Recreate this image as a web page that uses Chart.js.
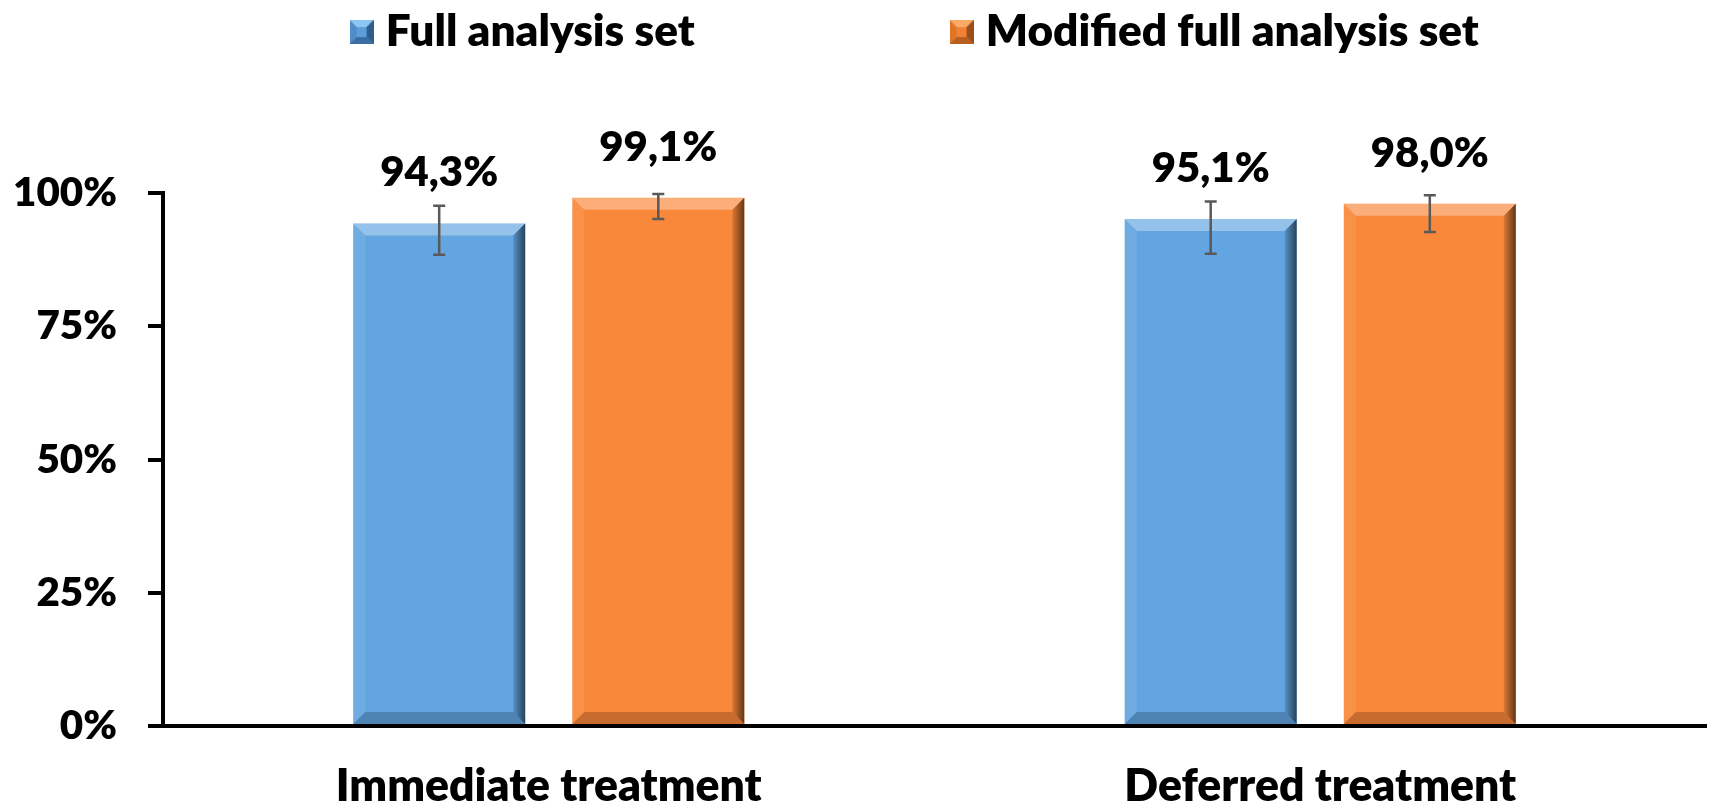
<!DOCTYPE html>
<html>
<head>
<meta charset="utf-8">
<script src="https://cdn.jsdelivr.net/npm/chart.js@4.4.1/dist/chart.umd.min.js"></script>
<style>
  html, body { margin: 0; padding: 0; background: #fff; }
  #wrap { width: 1709px; height: 808px; }
</style>
</head>
<body>
<div id="wrap"><canvas id="chart"></canvas></div>
<script>
// Data
const categories = ["Immediate treatment", "Deferred treatment"];
const seriesNames = ["Full analysis set", "Modified full analysis set"];
const fullSet = [94.3, 95.1];
const fullSetLow = [88.4, 88.6];
const fullSetHigh = [97.6, 98.4];
const modifiedSet = [99.1, 98.0];
const modifiedSetLow = [95.1, 92.7];
const modifiedSetHigh = [99.8, 99.6];
const yTicks = [0, 25, 50, 75, 100];

const FONT = "Lato, 'DejaVu Sans', sans-serif";
const WEIGHT = 800;
const measureCtx = document.createElement("canvas").getContext("2d");

function textWidth(text, size) {
    measureCtx.font = WEIGHT + " " + size + "px " + FONT;
    return measureCtx.measureText(text).width;
}

// pick font sizes so the texts come out as wide as in the picture
function fitSize(text, width) {
    return 100 * width / textWidth(text, 100);
}

const legendSize = fitSize(seriesNames[0], 309);
const labelSize = fitSize("94,3%", 118);
const tickSize = fitSize("100%", 104);
const catSize = fitSize(categories[0], 426);

// layout
const W = 1709;
const AREA_LEFT = 163;
const AREA_TOP = 193;
const AREA_BOTTOM = 726;
const PAD_RIGHT = 3;
const AREA_RIGHT = W - PAD_RIGHT;
const LEG_PAD = 10;
const LEG_BOX = 4;       // legend box slot, the icon overhangs it
const ICON = 24;
const TEXT1_X = 388;     // legend text starts
const TEXT2_X = 993;

// legend: pad the item texts with spaces so the items land where they do in the picture
const x1 = TEXT1_X - LEG_BOX - legendSize / 2;
const x2 = TEXT2_X - LEG_BOX - legendSize / 2;
const spaceW = textWidth("a a", legendSize) - textWidth("aa", legendSize);
const firstTextW = x2 - x1 - LEG_PAD - LEG_BOX - legendSize / 2;
const n1 = Math.max(0, Math.round((firstTextW - textWidth(seriesNames[0], legendSize)) / spaceW));
const legendText1 = seriesNames[0] + " ".repeat(n1);
const w1 = LEG_BOX + legendSize / 2 + textWidth(legendText1, legendSize);
const w2 = LEG_BOX + legendSize / 2 + textWidth(seriesNames[1], legendSize);
const lineNeeded = AREA_LEFT + LEG_PAD + AREA_RIGHT - 2 * x1;
const n2 = Math.max(0, Math.round((lineNeeded - w1 - w2 - 2 * LEG_PAD) / spaceW));
const legendText2 = seriesNames[1] + " ".repeat(n2);

const legendHeight = legendSize + LEG_PAD + 10;
const spacer = AREA_TOP - legendHeight - 10;

function poly(g, color, pts) {
    g.fillStyle = color;
    g.beginPath();
    pts.forEach((p, i) => (i ? g.lineTo(p[0], p[1]) : g.moveTo(p[0], p[1])));
    g.closePath();
    g.fill();
}

function legendIcon(base, light, side, dark, darker) {
    const s = ICON, b = 7;
    const c = document.createElement("canvas");
    c.width = s;
    c.height = s;
    const g = c.getContext("2d");
    g.fillStyle = base;
    g.fillRect(0, 0, s, s);
    poly(g, light, [[0, 0], [s, 0], [s - b, b], [b, b]]);
    poly(g, side, [[0, 0], [b, b], [b, s - b], [0, s]]);
    poly(g, dark, [[s, 0], [s, s], [s - b, s - b], [s - b, b]]);
    poly(g, darker, [[0, s], [s, s], [s - b, s - b], [b, s - b]]);
    return c;
}

const icons = [
    legendIcon("#5C9DDA", "#8CC6F2", "#4F8CC8", "#2F5D8C", "#3A6EA3"),
    legendIcon("#F08234", "#FBAA66", "#E07528", "#9A4F1A", "#B85F20"),
];

const barColors = ["#62A5E0", "#F9883A"];

// bevel, error bars, value labels
const decorations = {
    id: "decorations",
    afterDatasetsDraw(chart) {
        const ctx = chart.ctx;
        const yScale = chart.scales.y;
        chart.data.datasets.forEach((ds, d) => {
            chart.getDatasetMeta(d).data.forEach((bar, i) => {
                const { x, y, base, width } = bar.getProps(["x", "y", "base", "width"], true);
                const L = x - width / 2, R = x + width / 2, b = 12;
                ctx.save();
                poly(ctx, "rgba(255,255,255,0.32)", [[L, y], [R, y], [R - b, y + b], [L + b, y + b]]);
                poly(ctx, "rgba(255,255,255,0.08)", [[L, y], [L + b, y + b], [L + b, base - b], [L, base]]);
                const grad = ctx.createLinearGradient(R - b, 0, R, 0);
                grad.addColorStop(0, "rgba(0,0,0,0.12)");
                grad.addColorStop(1, "rgba(0,0,0,0.6)");
                poly(ctx, grad, [[R, y], [R, base], [R - b, base - b], [R - b, y + b]]);
                poly(ctx, "rgba(0,0,0,0.2)", [[L, base], [R, base], [R - b, base - b], [L + b, base - b]]);
                ctx.restore();

                // error bar
                const top = yScale.getPixelForValue(ds.errHigh[i]);
                const bot = yScale.getPixelForValue(ds.errLow[i]);
                ctx.save();
                ctx.strokeStyle = "#595959";
                ctx.lineWidth = 2.5;
                ctx.beginPath();
                ctx.moveTo(x, top); ctx.lineTo(x, bot);
                ctx.moveTo(x - 6, top); ctx.lineTo(x + 6, top);
                ctx.moveTo(x - 6, bot); ctx.lineTo(x + 6, bot);
                ctx.stroke();
                ctx.restore();

                // value label
                ctx.save();
                ctx.fillStyle = "#000";
                ctx.font = WEIGHT + " " + labelSize + "px " + FONT;
                ctx.textAlign = "center";
                ctx.textBaseline = "alphabetic";
                ctx.fillText(ds.data[i].toFixed(1).replace(".", ",") + "%", x, y - 37);
                ctx.restore();
            });
        });
    },
};

const ctx = document.getElementById("chart").getContext("2d");

new Chart(ctx, {
    type: "bar",
    data: {
        labels: categories,
        datasets: [
            {
                label: seriesNames[0],
                data: fullSet,
                errLow: fullSetLow,
                errHigh: fullSetHigh,
                backgroundColor: barColors[0],
                borderWidth: 0,
                categoryPercentage: 0.568,
                barPercentage: 0.785,
            },
            {
                label: seriesNames[1],
                data: modifiedSet,
                errLow: modifiedSetLow,
                errHigh: modifiedSetHigh,
                backgroundColor: barColors[1],
                borderWidth: 0,
                categoryPercentage: 0.568,
                barPercentage: 0.785,
            },
        ],
    },
    options: {
        responsive: true,
        maintainAspectRatio: false,
        animation: false,
        layout: {
            padding: { left: 0, right: PAD_RIGHT, top: 0, bottom: 0 },
        },
        plugins: {
            legend: {
                position: "top",
                align: "center",
                fullSize: false,
                labels: {
                    usePointStyle: true,
                    pointStyleWidth: LEG_BOX,
                    padding: LEG_PAD,
                    color: "#000",
                    font: { family: FONT, size: legendSize, weight: WEIGHT },
                    generateLabels(chart) {
                        const items = Chart.defaults.plugins.legend.labels.generateLabels(chart);
                        const texts = [legendText1, legendText2];
                        items.forEach((it, i) => {
                            it.pointStyle = icons[i];
                            it.text = texts[i];
                        });
                        return items;
                    },
                },
            },
            title: {
                display: true,
                text: "",
                weight: 500,
                padding: { top: 0, bottom: spacer },
                font: { size: 10, lineHeight: 1 },
            },
            tooltip: { enabled: false },
        },
        scales: {
            x: {
                grid: { display: false, drawTicks: false },
                border: { display: true, color: "#000", width: 4 },
                ticks: {
                    color: "#000",
                    padding: 61 - (catSize * 1.2) / 2,
                    font: { family: FONT, size: catSize, weight: WEIGHT },
                },
                afterFit(scale) {
                    scale.height = 808 - AREA_BOTTOM;
                },
            },
            y: {
                min: 0,
                max: 100,
                afterBuildTicks(scale) {
                    scale.ticks = yTicks.map((v) => ({ value: v }));
                },
                grid: {
                    drawOnChartArea: false,
                    drawTicks: true,
                    tickLength: 15,
                    color: "#000",
                    lineWidth: 4,
                },
                border: { display: true, color: "#000", width: 4 },
                ticks: {
                    color: "#000",
                    padding: 31,
                    font: { family: FONT, size: tickSize, weight: WEIGHT },
                    callback: (v) => v + "%",
                },
                afterFit(scale) {
                    scale.width = AREA_LEFT;
                },
            },
        },
    },
    plugins: [decorations],
});
</script>
</body>
</html>
